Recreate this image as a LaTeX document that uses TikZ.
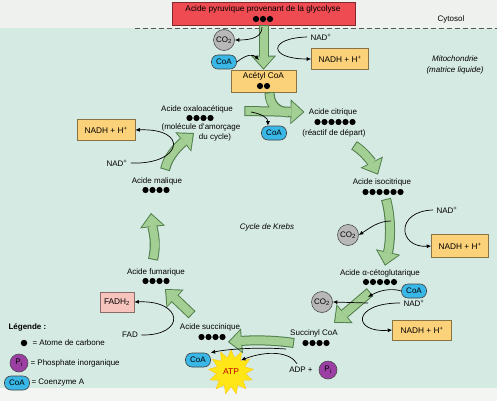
\documentclass[tikz,border=0pt]{standalone}
\usepackage{fontspec}
\setmainfont{Liberation Sans}
\usetikzlibrary{arrows.meta,shapes.geometric}

\definecolor{cytobg}{HTML}{EEF1EE}
\definecolor{mitobg}{HTML}{D6EAE4}
\definecolor{footbg}{HTML}{F3F5F3}
\definecolor{flowlight}{HTML}{A4CF94}
\definecolor{flowdark}{HTML}{4E7E4A}
\definecolor{pyrred}{HTML}{EE4B52}
\definecolor{nadhbox}{HTML}{FBD17A}
\definecolor{fadhbox}{HTML}{F6C4BC}
\definecolor{co2grey}{HTML}{B8B8B8}
\definecolor{coablue}{HTML}{39B7E6}
\definecolor{pipurple}{HTML}{9B3FA3}
\definecolor{atpyellow}{HTML}{FFE617}

\tikzset{
  flowedge/.style={draw=flowdark, line width=10pt,
    -{Triangle[length=14pt,width=25pt,line width=0pt]}},
  flowfill/.style={draw=flowlight, line width=8pt, shorten >=1.5pt, shorten <=1pt,
    -{Triangle[length=11.6pt,width=21pt,line width=0pt]}},
  rxn/.style={line width=0.7pt, -{Latex[length=4.5pt,width=4pt]}},
  box/.style={draw=#1!55!black, fill=#1, line width=0.6pt, minimum height=21pt,
    inner sep=2pt, font=\fontsize{8.3}{10}\selectfont},
  gas/.style={circle, draw=black!70, fill=co2grey, line width=0.6pt,
    minimum size=21pt, inner sep=0pt},
  coenz/.style={rectangle, rounded corners=6.5pt, draw=black!75, fill=coablue, line width=0.6pt,
    minimum width=25pt, minimum height=14pt, inner sep=1pt},
  phos/.style={circle, draw=black!70, fill=pipurple, line width=0.6pt,
    minimum size=18pt, inner sep=0pt},
  note/.style={font=\fontsize{8}{10.5}\selectfont\itshape, align=center},
}

\newcommand\carbons[3]{\foreach \k in {1,...,#3} \fill ({#1+(\k-(#3+1)/2)*7},#2) circle (3.1pt);}

\begin{document}
\begin{tikzpicture}[x=1pt,y=-1pt,font=\fontsize{8}{9.5}\selectfont]
  \useasboundingbox (0,0) rectangle (497,401);
  \fill[cytobg] (0,0) rectangle (497,28);
  \fill[mitobg] (0,28) rectangle (497,388);
  \fill[footbg] (0,388) rectangle (497,401);
  \draw[black!65, line width=0.7pt, dash pattern=on 5pt off 3pt] (135,28) -- (497,28);

  \node[box=pyrred, minimum width=183pt, minimum height=23pt] (pyr) at (263.5,13.5) {};
  \node[font=\fontsize{8.3}{10}\selectfont] (pyrtxt) at (263,9) {Acide pyruvique provenant de la glycolyse};
  \carbons{263}{19}{3}
  \node (cyto) at (451,19) {Cytosol};
  \node[note] (mito) at (455,65) {Mitochondrie\\(matrice liquide)};

  \node[gas] (co2a) at (224,40) {CO\textsubscript{2}};
  \node[coenz] (coaa) at (224,62) {CoA};
  \node (nad1) at (321,37) {NAD\textsuperscript{+}};
  \node[box=nadhbox, minimum width=57pt] (nadh1) at (340,59) {NADH + H\textsuperscript{+}};
  \node[box=nadhbox, minimum width=65pt, minimum height=22pt] (acet) at (263.5,81) {};
  \node[font=\fontsize{8.3}{10}\selectfont] (acettxt) at (263.5,76.5) {Acétyl CoA};
  \carbons{263.5}{86}{2}

  \node (oxa) at (197,109) {Acide oxaloacétique};
  \carbons{200}{118}{4}
  \coordinate (oxaC) at (200,118);
  \node[align=center] (oxanote) at (201,132.5) {(molécule d'amorçage\\\hspace*{28pt}du cycle)};
  \node[coenz] (coab) at (274,133) {CoA};

  \node (cit) at (333,112) {Acide citrique};
  \carbons{335}{122}{6}
  \node (citnote) at (334,133) {(réactif de départ)};

  \node (iso) at (382,182) {Acide isocitrique};
  \carbons{383}{192}{6}
  \coordinate (isoC) at (383,192);
  \node (nad2) at (447,210) {NAD\textsuperscript{+}};
  \node[gas] (co2b) at (348,235) {CO\textsubscript{2}};
  \node[box=nadhbox, minimum width=57pt, minimum height=23pt] (nadh2) at (460,246) {NADH + H\textsuperscript{+}};

  \node (akg) at (380,273) {Acide α-cétoglutarique};
  \carbons{380}{282}{5}
  \coordinate (akgC) at (380,282);
  \node[coenz] (coac) at (414,291) {CoA};
  \node (nad3) at (414,303) {NAD\textsuperscript{+}};
  \node[gas] (co2c) at (322,302) {CO\textsubscript{2}};
  \node[box=nadhbox, minimum width=59pt, minimum height=20pt] (nadh3) at (422,330) {NADH + H\textsuperscript{+}};

  \node (scoa) at (314,333) {Succinyl CoA};
  \carbons{316}{343}{4}
  \coordinate (scoaC) at (316,343);
  \node (adp) at (301,370) {ADP +};
  \node[phos] (pi) at (328,370) {P\textsubscript{i}};
  \node[star, star points=13, star point ratio=1.55, fill=atpyellow, draw=atpyellow!70!orange,
    minimum size=45pt, inner sep=0pt, text=red!75!black,
    font=\fontsize{8.5}{10}\selectfont] (atp) at (231,372) {ATP};

  \node (succ) at (210,327) {Acide succinique};
  \carbons{212}{337}{4}
  \coordinate (succC) at (212,337);
  \node[coenz] (coad) at (198,360) {CoA};

  \node (fum) at (156,272) {Acide fumarique};
  \carbons{156}{281}{4}
  \coordinate (fumC) at (156,281);
  \node[box=fadhbox, minimum width=34pt, minimum height=20pt] (fadh) at (117,302) {FADH\textsubscript{2}};
  \node (fad) at (130,335) {FAD};

  \node (mal) at (157,181) {Acide malique};
  \carbons{156}{190}{4}
  \coordinate (malC) at (156,190);
  \node (nad4) at (117,163) {NAD\textsuperscript{+}};
  \node[box=nadhbox, minimum width=58pt] (nadh4) at (106,130) {NADH + H\textsuperscript{+}};

  \node[note] (cycle) at (267,227) {Cycle de Krebs};

  \node[font=\fontsize{8}{9.5}\selectfont\bfseries, anchor=west] (leg) at (5,327) {Légende :};
  \node[circle, fill=black, minimum size=6.5pt, inner sep=0pt] (legdot) at (24,343) {};
  \node[anchor=west] (legc) at (29,343) {= Atome de carbone};
  \node[phos] (legpi) at (19,363) {P\textsubscript{i}};
  \node[anchor=west] (legp) at (27,363) {= Phosphate inorganique};
  \node[coenz] (legcoa) at (17,383) {CoA};
  \node[anchor=west] (lega) at (28,383) {= Coenzyme A};

  \coordinate (join) at (290,112.5);
  \coordinate (oxatip) at ([xshift=-6pt,yshift=-15pt]oxaC);
  \foreach \pass in {flowedge,flowfill} {
    \draw[\pass] (pyr.south) -- (pyr.south |- acet.north);
    \draw[\pass,-] ([xshift=6pt]acet.south) .. controls +(0,13) and +(-12,0) .. (join);
    \draw[\pass] ([xshift=8pt,yshift=-2pt]oxa.east) -- ([xshift=-1pt]cit.west);
    \draw[\pass] ([xshift=20pt,yshift=-5pt]citnote.south) .. controls +(10,6) and +(-6,-12) .. ([xshift=-4pt]iso.north);
    \draw[\pass] ([xshift=3pt,yshift=-7pt]isoC) .. controls +(6,22) and +(5,-22) .. ([xshift=5pt]akg.north);
    \draw[\pass] ([xshift=-10pt,yshift=-10pt]akgC) -- ([xshift=20pt,yshift=3pt]scoa.north);
    \draw[\pass] ([xshift=-22pt]scoaC) .. controls +(-20,-3) and +(25,-2) .. ([xshift=16pt,yshift=-5pt]succC);
    \draw[\pass] ([xshift=-18pt,yshift=5pt]succ.north) -- ([xshift=9pt,yshift=-8pt]fumC);
    \draw[\pass] ([xshift=-3pt,yshift=5pt]fum.north) .. controls +(4,-18) and +(2,18) .. ([xshift=-5pt,yshift=-23pt]malC);
    \draw[\pass] ([xshift=8pt,yshift=4pt]mal.north) .. controls +(3,-15) and +(-12,10) .. (oxatip);
  }

  \coordinate (rel1) at (262,27);
  \coordinate (in1) at (259,60);
  \coordinate (rel5) at (251,112);
  \coordinate (rel2) at (391,221);
  \coordinate (in3) at (368,297);
  \coordinate (rel3) at (368,303);
  \coordinate (rel4) at (286,349);
  \begin{scope}[rxn]
    \draw (rel1) .. controls (262,37) and (252,40) .. (co2a.east);
    \draw (coaa.east) .. controls (247,54) and (253,54) .. (in1);
    \draw (nad1.west) .. controls (268,38) and (268,59) .. (nadh1.west);
    \draw (rel5) .. controls (262,114) and (268,118) .. (coab.130);
    \draw (nad2.west) .. controls (395,211) and (398,248) .. (nadh2.west);
    \draw (rel2) .. controls (378,221) and (370,228) .. (co2b.east);
    \draw (coac.west) .. controls (392,288) and (380,290) .. (in3);
    \draw (rel3) -- (co2c.east);
    \draw (nad3.west) .. controls (352,303) and (352,333) .. (nadh3.west);
    \draw ([xshift=-4pt]adp.north) .. controls (290,352) and (268,350) .. (atp.50);
    \draw (rel4) .. controls (258,347) and (228,349) .. (coad.30);
    \draw (fad.east) .. controls (186,336) and (184,300) .. (fadh.east);
    \draw (nad4.east) .. controls (182,165) and (190,128) .. (nadh4.east);
  \end{scope}
\end{tikzpicture}
\end{document}
